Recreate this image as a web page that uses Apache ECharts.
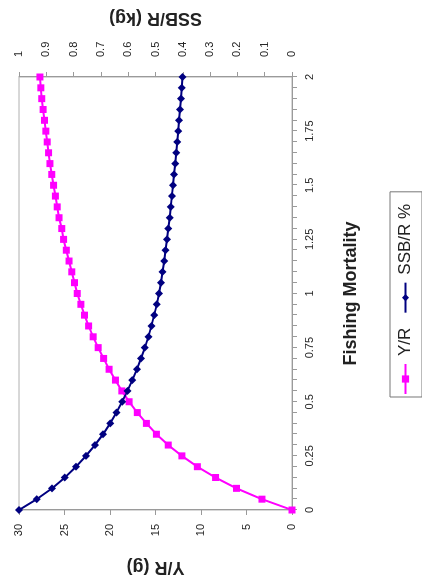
<!DOCTYPE html>
<html>
<head>
<meta charset="utf-8">
<script src="https://cdn.jsdelivr.net/npm/echarts@6/dist/echarts.min.js"></script>
<style>
  html, body { margin: 0; padding: 0; background: #fff; overflow: hidden; }
  body { width: 422px; height: 584px; position: relative; }
  /* The chart is laid out landscape and turned a quarter turn counter-clockwise */
  #chart {
    position: absolute; left: 0; top: 0;
    width: 584px; height: 422px;
    transform-origin: 0 0;
    transform: translate(0, 584px) rotate(-90deg);
  }
</style>
</head>
<body>
<div id="chart"></div>
<script>
// Fishing mortality steps (F)
const fishingMortality = [
  0, 0.05, 0.1, 0.15, 0.2, 0.25, 0.3, 0.35, 0.4, 0.45,
  0.5, 0.55, 0.6, 0.65, 0.7, 0.75, 0.8, 0.85, 0.9, 0.95,
  1, 1.05, 1.1, 1.15, 1.2, 1.25, 1.3, 1.35, 1.4, 1.45,
  1.5, 1.55, 1.6, 1.65, 1.7, 1.75, 1.8, 1.85, 1.9, 1.95, 2
];
// Yield per recruit (g)
const yieldPerRecruit = [
  0, 3.3, 6.1, 8.4, 10.4, 12.1, 13.6, 14.9, 16.0, 17.0,
  17.9, 18.7, 19.4, 20.1, 20.7, 21.3, 21.85, 22.35, 22.8, 23.2,
  23.6, 23.9, 24.2, 24.5, 24.8, 25.1, 25.3, 25.6, 25.8, 26.0,
  26.2, 26.4, 26.6, 26.75, 26.9, 27.05, 27.2, 27.35, 27.5, 27.6, 27.7
];
// Spawning stock biomass per recruit (kg)
const ssbPerRecruit = [
  1.0, 0.935, 0.879, 0.832, 0.791, 0.755, 0.722, 0.692, 0.666, 0.643,
  0.622, 0.603, 0.585, 0.568, 0.553, 0.539, 0.526, 0.515, 0.505, 0.495,
  0.487, 0.480, 0.474, 0.468, 0.463, 0.458, 0.453, 0.448, 0.444, 0.440,
  0.436, 0.432, 0.428, 0.424, 0.420, 0.417, 0.414, 0.410, 0.407, 0.404, 0.401
];

const font = 'Liberation Sans, Arial, sans-serif';
const axisGray = '#9a9a9a';
const textColor = '#222';

const chart = echarts.init(document.getElementById('chart'));
chart.setOption({
  backgroundColor: '#fff',
  animation: false,
  textStyle: { fontFamily: font, color: textColor },
  grid: {
    left: 74, right: 77, top: 19, bottom: 130,
    show: true, borderColor: '#b0b0b0', borderWidth: 1
  },
  legend: {
    left: 187, top: 390,
    padding: [7, 12, 8, 2],
    itemGap: 14, itemWidth: 30, itemHeight: 9,
    borderColor: '#777', borderWidth: 1,
    textStyle: { fontFamily: font, fontSize: 17, color: textColor, padding: [0, 0, 0, 3] },
    data: ['Y/R', 'SSB/R %']
  },
  xAxis: {
    type: 'value', min: 0, max: 2, interval: 0.25,
    name: 'Fishing Mortality', nameLocation: 'middle', nameGap: 50,
    nameTextStyle: { fontFamily: font, fontSize: 18, fontWeight: 'bold', color: textColor },
    axisLine: { show: true, lineStyle: { color: axisGray, width: 1 } },
    axisTick: { show: true, length: 5, lineStyle: { color: axisGray } },
    minorTick: { show: true, splitNumber: 5, length: 5, lineStyle: { color: axisGray } },
    axisLabel: { fontSize: 11, margin: 12, color: textColor },
    splitLine: { show: false }
  },
  yAxis: [
    {
      type: 'value', min: 0, max: 30, interval: 5, position: 'left',
      name: 'Y/R (g)', nameLocation: 'middle', nameGap: 48, nameRotate: 90,
      nameTextStyle: { fontFamily: font, fontSize: 18, fontWeight: 'bold', color: textColor },
      axisLine: { show: true, lineStyle: { color: axisGray, width: 1 } },
      axisTick: { show: true, length: 5, lineStyle: { color: axisGray } },
      axisLabel: { fontSize: 11, margin: 14, color: textColor },
      splitLine: { show: false }
    },
    {
      type: 'value', min: 0, max: 1, interval: 0.1, position: 'right',
      name: 'SSB/R (kg)', nameLocation: 'middle', nameGap: 50, nameRotate: 90,
      nameTextStyle: { fontFamily: font, fontSize: 18, fontWeight: 'bold', color: textColor },
      axisLine: { show: true, lineStyle: { color: axisGray, width: 1 } },
      axisTick: { show: true, length: 5, lineStyle: { color: axisGray } },
      axisLabel: { fontSize: 11, margin: 20, color: textColor },
      splitLine: { show: false }
    }
  ],
  series: [
    {
      name: 'Y/R', type: 'line', yAxisIndex: 0,
      data: fishingMortality.map((f, i) => [f, yieldPerRecruit[i]]),
      symbol: 'rect', symbolSize: 7,
      lineStyle: { color: '#FF00FF', width: 2 },
      itemStyle: { color: '#FF00FF' }
    },
    {
      name: 'SSB/R %', type: 'line', yAxisIndex: 1,
      data: fishingMortality.map((f, i) => [f, ssbPerRecruit[i]]),
      symbol: 'diamond', symbolSize: 8,
      lineStyle: { color: '#000080', width: 2 },
      itemStyle: { color: '#000080' }
    }
  ]
});
</script>
</body>
</html>
